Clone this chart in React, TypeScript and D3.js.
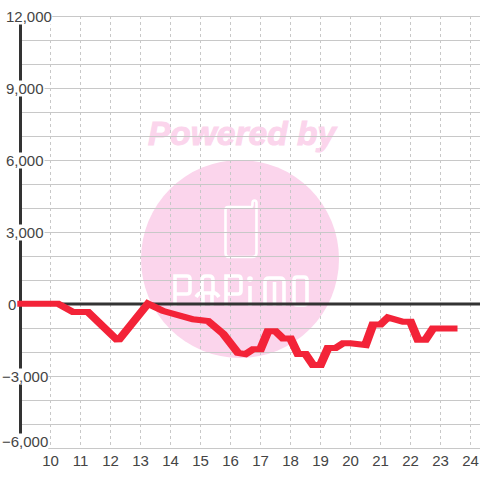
import React from "react";
import * as d3 from "d3";

const yTicks = [12000, 9000, 6000, 3000, 0, -3000, -6000];
const yGrid = d3.range(-6000, 13000, 1000);
const xTicks = [10, 11, 12, 13, 14, 15, 16, 17, 18, 19, 20, 21, 22, 23, 24];
const hours = [9, 10.25, 10.75, 11.25, 12.25, 13.25, 13.75, 14.75, 15.25, 15.75, 16.25, 16.5, 16.75, 17, 17.25, 17.5, 17.75, 18, 18.25, 18.5, 18.75, 19, 19.25, 19.5, 19.75, 20, 20.5, 20.75, 21, 21.25, 21.75, 22, 22.25, 22.5, 22.75, 23.5];
const values = [0, 0, -350, -350, -1550, 0, -300, -650, -720, -1250, -2050, -2100, -1900, -1900, -1150, -1150, -1450, -1450, -2100, -2100, -2550, -2550, -1850, -1850, -1650, -1650, -1720, -870, -870, -570, -750, -750, -1500, -1500, -1030, -1030];

const STRETCH = 1.5;
const x = d3.scaleLinear().domain([9, 24]).range([20.5, 470.5]);
const y = d3.scaleLinear().domain([12000, -6000]).range([16, 448]);
const line = d3.line<number>().x((_, i) => x(hours[i]) / STRETCH).y((d) => y(d) - 0.3);
const fmt = d3.format(",");
const FONT = "'Liberation Sans', Arial, sans-serif";
const PINK = "#fbd5ec";

function labelStart(v: number) {
  return v === 0 ? 8 : v < 0 ? 2 : 6;
}
function labelMid(v: number) {
  return v === -6000 ? y(v) - 6.5 : y(v) + 0.5;
}

const logoLetters = "M175 306 V276 H187 Q190 276 190 279 V291 Q190 294 187 294 H175 M203 306 V294 M212 306 V294 M202 293 V280 Q202 276 206 276 H209 Q213 276 213 280 V293 M196 297 Q199 292 203 293 H212 Q216 292 219 297 M226 306 V276 H238 Q241 276 241 279 V291 Q241 294 238 294 H226 M250 286 V306 M265 306 V282 Q265 278 269 278 H280 Q284 278 284 282 V306 M274.5 282 V306 M294 280 Q294 277 297 277 H304 Q307 277 307 280 V302 Q307 305 304 305 H297 Q294 305 294 302 Z";

export default function App() {
  return (
    <svg width={480} height={480} style={{ position: "absolute", left: 0, top: 0, background: "#fff" }}>
      <defs>
        <clipPath id="lineClip">
          <rect x={17.3} y={0} width={440.2} height={480} />
        </clipPath>
      </defs>
      <g>
        <text x={148} y={145} textLength={188} lengthAdjust="spacingAndGlyphs" fontFamily={FONT} fontWeight="bold" fontStyle="italic" fontSize={33} fill={PINK} stroke={PINK} strokeWidth={1}>Powered by</text>
        <circle cx={240} cy={259} r={99} fill={PINK} />
        <path d="M228 207 H251 Q252.5 207 252.5 204 V203 Q252.5 200.5 254.5 200.5 Q256.5 200.5 256.5 203 V253 Q256.5 257 252 257 H229 Q225.5 257 225.5 253 V210 Q225.5 207 228 207 Z" fill="none" stroke="#fff" strokeWidth={2.6} />
        <path d={logoLetters} fill="none" stroke="#fff" strokeWidth={3.6} />
        <circle cx={250} cy={279} r={2.8} fill="#fff" />
      </g>
      {yGrid.map((v) => (
        <line key={v} x1={20} x2={480} y1={y(v) + 0.5} y2={y(v) + 0.5} stroke="#c8c8c8" strokeWidth={1} />
      ))}
      {xTicks.map((t) => (
        <line key={t} x1={x(t)} x2={x(t)} y1={16} y2={448} stroke="#c8c8c8" strokeWidth={1} strokeDasharray="3 3" />
      ))}
      <line x1={20.5} x2={20.5} y1={16} y2={448} stroke="#333" strokeWidth={3} />
      <line x1={20} x2={480} y1={304} y2={304} stroke="#333" strokeWidth={3} />
      {yTicks.map((v) => {
        const label = fmt(v);
        return (
          <g key={v}>
            <rect x={labelStart(v) - 1} y={labelMid(v) - 8} width={label.length * 7.7 + 1} height={16} fill="#fff" />
            <text x={labelStart(v)} y={labelMid(v) + 5} fontFamily={FONT} fontSize={15} fill="#444">{label}</text>
          </g>
        );
      })}
      {xTicks.map((t) => (
        <text key={t} x={x(t)} y={466} textAnchor="middle" fontFamily={FONT} fontSize={15} fill="#444">{t}</text>
      ))}
      <g clipPath="url(#lineClip)">
        <path transform={`scale(${STRETCH},1)`} d={line(values) ?? ""} fill="none" stroke="#f32338" strokeWidth={6} strokeLinecap="square" strokeLinejoin="miter" strokeMiterlimit={1.6} />
      </g>
    </svg>
  );
}
